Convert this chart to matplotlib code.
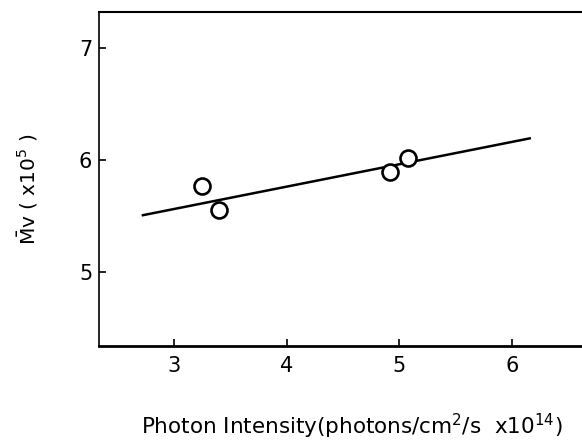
import numpy as np
import matplotlib
matplotlib.use('Agg')
import matplotlib.pyplot as plt

#---Data---
intensity = [3.25, 3.40, 4.92, 5.08]   # photons/cm2/s x10^14
mv = [5.77, 5.55, 5.89, 6.02]          # Mv x10^5
fit_x = [2.71, 6.17]
fit_y = [5.505, 6.195]
xticks = [3, 4, 5, 6]
yticks = [5, 6, 7]

plt.rcParams['font.family'] = 'DejaVu Sans'
plt.rcParams['mathtext.fontset'] = 'dejavusans'

#---Plot---
fig = plt.figure(figsize=(5.82, 4.41), dpi=100)
ax = fig.add_axes([0.1706, 0.2143, 1 - 0.1706, 0.7585])

ax.plot(fit_x, fit_y, color='black', linewidth=1.8, solid_capstyle='butt')
ax.plot(intensity, mv, 'o', markersize=11.5, markerfacecolor='white',
        markeredgecolor='black', markeredgewidth=1.9)

ax.set_xlim(2.333, 6.624)
ax.set_ylim(4.335, 7.321)
ax.set_xticks(xticks)
ax.set_yticks(yticks)
ax.tick_params(direction='in', length=5, width=1.2, labelsize=15)
ax.tick_params(axis='x', pad=7)
ax.tick_params(axis='y', pad=5)

ax.spines['right'].set_visible(False)
ax.spines['bottom'].set_linewidth(2.0)
ax.spines['top'].set_linewidth(1.5)
ax.spines['left'].set_linewidth(1.2)

fig.text(0.604, 0.032, 'Photon Intensity(photons/cm$^2$/s  x10$^{14}$)',
         ha='center', va='center', fontsize=15.5)
fig.text(0.0486, 0.571, r'$\bar{\mathrm{M}}$v ( x10$^5$ )', rotation=90,
         ha='center', va='center', fontsize=14.5)

plt.savefig('out.png', dpi=100)
